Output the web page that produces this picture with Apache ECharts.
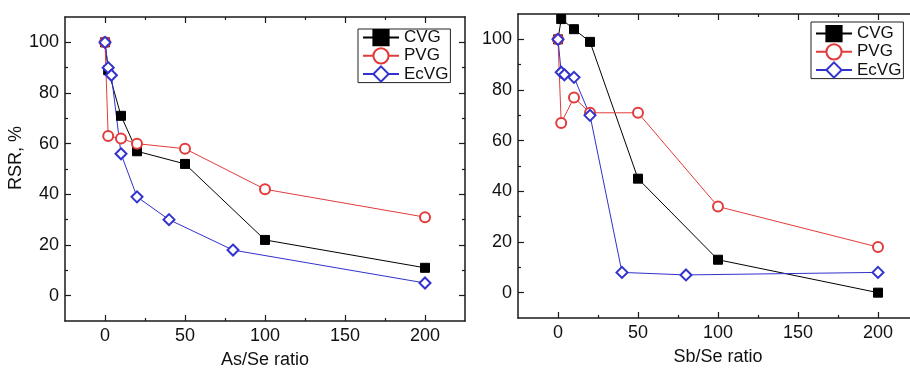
<!DOCTYPE html>
<html>
<head>
<meta charset="utf-8">
<script src="https://cdn.jsdelivr.net/npm/echarts@6/dist/echarts.min.js"></script>
<style>
  html, body { margin: 0; padding: 0; background: #fff; }
  #chart { width: 910px; height: 369px; }
</style>
</head>
<body>
<div id="chart"></div>
<script>
// axis ticks
const xTickLabels = [0, 50, 100, 150, 200];
const xMinorTicks = [25, 75, 125, 175];
const yTickLabels = [0, 20, 40, 60, 80, 100];
const yMinorTicks = [10, 30, 50, 70, 90];
const seriesNames = ['CVG', 'PVG', 'EcVG'];

// As/Se panel
const asCvgX = [0, 2, 10, 20, 50, 100, 200];
const asCvgY = [100, 89, 71, 57, 52, 22, 11];
const asPvgX = [0, 2, 10, 20, 50, 100, 200];
const asPvgY = [100, 63, 62, 60, 58, 42, 31];
const asEcvgX = [0, 2, 4, 10, 20, 40, 80, 200];
const asEcvgY = [100, 90, 87, 56, 39, 30, 18, 5];

// Sb/Se panel
const sbCvgX = [0, 2, 10, 20, 50, 100, 200];
const sbCvgY = [100, 108, 104, 99, 45, 13, 0];
const sbPvgX = [0, 2, 10, 20, 50, 100, 200];
const sbPvgY = [100, 67, 77, 71, 71, 34, 18];
const sbEcvgX = [0, 2, 4, 10, 20, 40, 80, 200];
const sbEcvgY = [100, 87, 86, 85, 70, 8, 7, 8];

const font = 'Liberation Sans';
const axisColor = '#1a1a1a';
const red = '#e23b3b';
const blue = '#3232cc';

const zip = (xs, ys) => xs.map((x, i) => [x, ys[i]]);

function axesFor(grid, dim, name) {
    const isX = dim === 'x';
    const min = isX ? -25 : -10;
    const max = isX ? 225 : 110;
    const major = isX ? xTickLabels : yTickLabels;
    const minor = isX ? xMinorTicks : yMinorTicks;
    const positions = isX ? ['bottom', 'top'] : ['left', 'right'];
    const out = [];
    positions.forEach((pos, p) => {
        [major, minor].forEach((ticks, m) => {
            const main = p === 0 && m === 0;
            out.push({
                gridIndex: grid,
                type: 'value',
                min: min,
                max: max,
                position: pos,
                splitLine: { show: false },
                axisLine: { show: m === 0, onZero: false, lineStyle: { color: axisColor, width: 1.5 } },
                axisTick: {
                    inside: true,
                    length: m === 0 ? 6 : 3,
                    customValues: ticks,
                    lineStyle: { color: axisColor, width: 1.2 }
                },
                axisLabel: {
                    show: main,
                    customValues: major,
                    margin: 6,
                    color: '#111',
                    fontFamily: font,
                    fontSize: 18
                },
                name: main ? name : '',
                nameLocation: 'middle',
                nameGap: isX ? 30 : 31,
                nameTextStyle: {
                    color: '#111',
                    fontFamily: font,
                    fontSize: 18,
                    padding: isX ? 0 : [0, 0, 0, 22]
                }
            });
        });
    });
    return out;
}

function lineSeries(name, xIdx, yIdx, data) {
    const styles = {
        CVG: { color: '#000', symbol: 'rect', size: 9 },
        PVG: { color: red, symbol: 'emptyCircle', size: 10 },
        EcVG: { color: blue, symbol: 'emptyDiamond', size: 11 }
    };
    const s = styles[name];
    return {
        type: 'line',
        name: name,
        xAxisIndex: xIdx,
        yAxisIndex: yIdx,
        data: data,
        symbol: s.symbol,
        symbolSize: s.size,
        showAllSymbol: true,
        clip: false,
        color: s.color,
        lineStyle: { color: s.color, width: 1 },
        itemStyle: { color: s.color, borderColor: s.color, borderWidth: 1 },
        emphasis: { disabled: true },
        animation: false
    };
}

function legendAt(left, top, padding) {
    return {
        data: seriesNames,
        orient: 'vertical',
        left: left,
        top: top,
        padding: padding,
        itemWidth: 36,
        itemHeight: 19,
        itemGap: 1,
        borderColor: '#222',
        borderWidth: 1,
        selectedMode: false,
        textStyle: { fontFamily: font, fontSize: 17, color: '#111' }
    };
}

const chart = echarts.init(document.getElementById('chart'), null, { renderer: 'canvas' });
chart.setOption({
    backgroundColor: '#fff',
    animation: false,
    grid: [
        { left: 65, top: 17, width: 400, height: 304, outerBoundsMode: 'none' },
        { left: 518, top: 14, width: 400, height: 304, outerBoundsMode: 'none' }
    ],
    xAxis: axesFor(0, 'x', 'As/Se ratio').concat(axesFor(1, 'x', 'Sb/Se ratio')),
    yAxis: axesFor(0, 'y', 'RSR, %').concat(axesFor(1, 'y', '')),
    legend: [
        legendAt(358, 29, [0, 2, 0, 4]),
        legendAt(811, 22, [3, 2, 0, 4])
    ],
    series: [
        lineSeries('CVG', 0, 0, zip(asCvgX, asCvgY)),
        lineSeries('PVG', 0, 0, zip(asPvgX, asPvgY)),
        lineSeries('EcVG', 0, 0, zip(asEcvgX, asEcvgY)),
        lineSeries('CVG', 4, 4, zip(sbCvgX, sbCvgY)),
        lineSeries('PVG', 4, 4, zip(sbPvgX, sbPvgY)),
        lineSeries('EcVG', 4, 4, zip(sbEcvgX, sbEcvgY))
    ]
});
</script>
</body>
</html>
